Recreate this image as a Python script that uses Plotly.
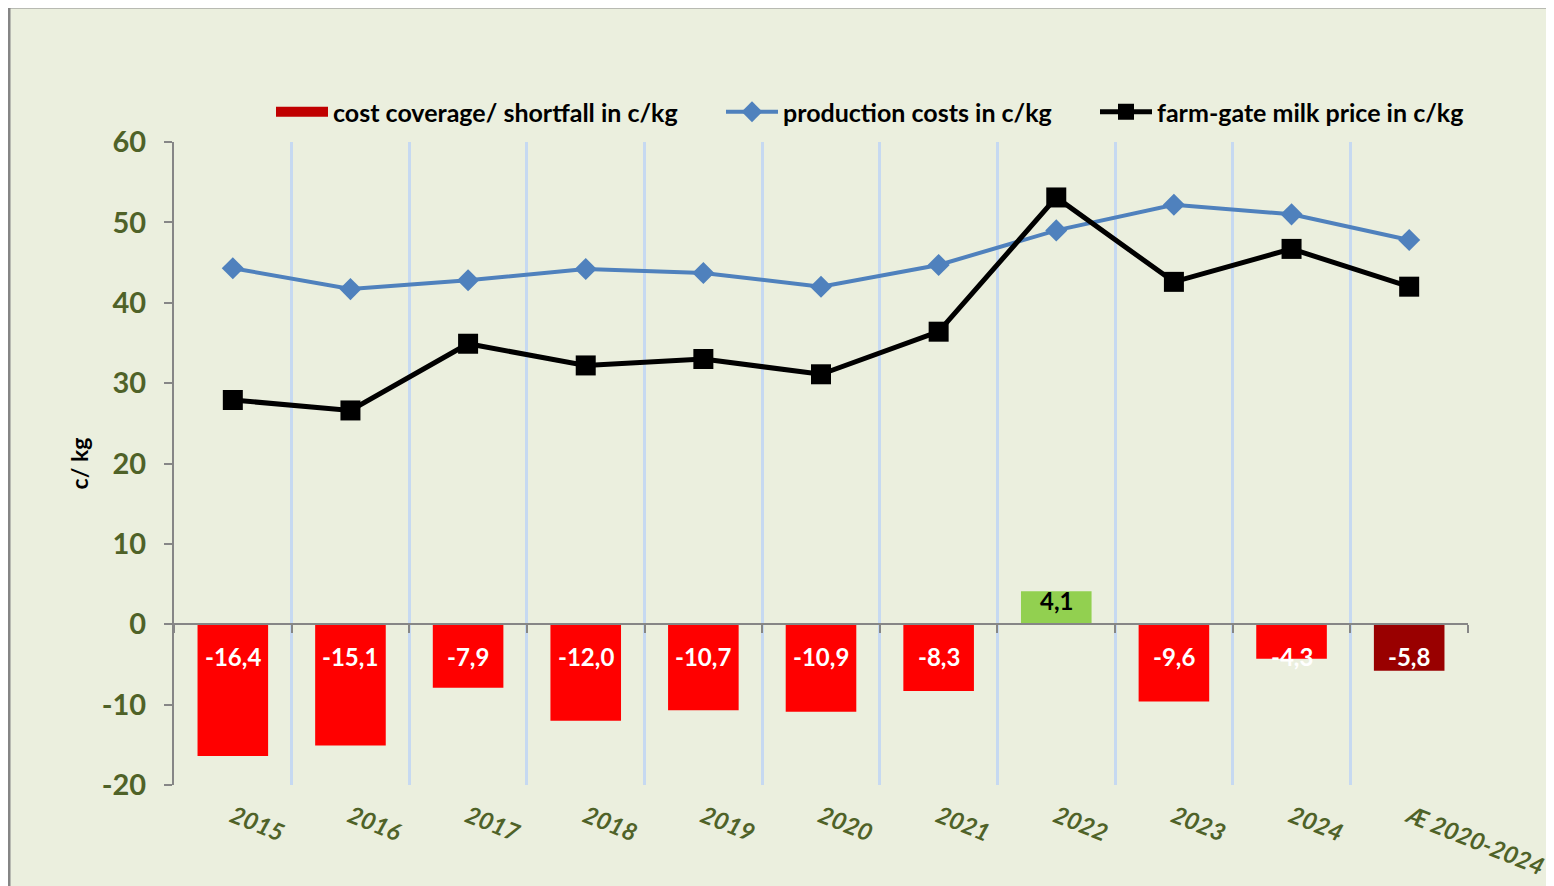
import plotly.graph_objects as go

categories = ["2015", "2016", "2017", "2018", "2019", "2020", "2021", "2022", "2023", "2024", "Æ 2020-2024"]
coverage = [-16.4, -15.1, -7.9, -12.0, -10.7, -10.9, -8.3, 4.1, -9.6, -4.3, -5.8]
production_costs = [44.3, 41.7, 42.8, 44.2, 43.7, 42.0, 44.7, 49.0, 52.2, 51.0, 47.8]
milk_price = [27.9, 26.6, 34.9, 32.2, 33.0, 31.1, 36.4, 53.1, 42.6, 46.7, 42.0]
y_ticks = [-20, -10, 0, 10, 20, 30, 40, 50, 60]

bar_colors = ["#FF0000"] * 7 + ["#92D050"] + ["#FF0000"] * 2 + ["#990000"]
text_colors = ["white"] * 7 + ["black"] + ["white"] * 3
bar_text = [f"{v:.1f}".replace(".", ",") for v in coverage]

OFF = 8  # browser body margin
W, H = 1554, 886
L, R, T, B = 174, 1468, 142, 785   # page pixel coordinates of plot area
pw, ph = R - L, B - T


def px_x(p):
    return (p - L) / pw


def px_y(p):
    return (B - p) / ph


FONT = "Lato"
OLIVE = "#4F6228"

fig = go.Figure()

fig.add_trace(go.Bar(
    x=categories, y=coverage, width=0.6,
    marker=dict(color=bar_colors, line=dict(width=0)),
    textposition="none",
    showlegend=False,
))
# legend entry for bars
fig.add_trace(go.Scatter(
    x=[None], y=[None], mode="lines",
    line=dict(color="#C00000", width=14),
    name="cost coverage/ shortfall in c/kg", legend="legend",
))
fig.add_trace(go.Scatter(
    x=categories, y=production_costs, mode="lines+markers",
    line=dict(color="#4F81BD", width=4),
    marker=dict(symbol="diamond", size=17, color="#4F81BD"),
    name="production costs in c/kg", legend="legend2",
))
fig.add_trace(go.Scatter(
    x=categories, y=milk_price, mode="lines+markers",
    line=dict(color="#000000", width=5),
    marker=dict(symbol="square", size=20, color="#000000"),
    name="farm-gate milk price in c/kg", legend="legend3",
))

# bar value labels (x given as category index)
for i, (v, t, col) in enumerate(zip(coverage, bar_text, text_colors)):
    if v < 0:
        fig.add_annotation(x=i, y=0, text=t, showarrow=False, yanchor="middle", yshift=-32,
                           font=dict(family=FONT, size=24, color=col, weight="bold"))
    else:
        fig.add_annotation(x=i, y=v, text=t, showarrow=False, yanchor="middle", yshift=-9,
                           font=dict(family=FONT, size=24, color=col, weight="bold"))

# frame
fig.add_shape(type="rect", xref="paper", yref="paper",
              x0=px_x(9), x1=px_x(1600), y0=px_y(7), y1=px_y(950),
              fillcolor="#EBEFDE", line=dict(color="#858585", width=3),
              layer="below")

leg_common = dict(
    orientation="h", y=px_y(112), xanchor="left", yanchor="middle",
    font=dict(family=FONT, size=25, color="black", weight="bold"),
    bgcolor="rgba(0,0,0,0)", itemwidth=52,
)

fig.update_layout(
    width=W - OFF, height=H - OFF,
    margin=dict(l=L - OFF, r=W - R, t=T - OFF, b=H - B, autoexpand=False),
    paper_bgcolor="#E7E7E7",
    plot_bgcolor="rgba(0,0,0,0)",
    font=dict(family=FONT),
    legend=dict(x=px_x(271), **leg_common),
    legend2=dict(x=px_x(721), **leg_common),
    legend3=dict(x=px_x(1095), **leg_common),
    xaxis=dict(
        type="category", categoryorder="array", categoryarray=categories,
        range=[-0.5, 10.5], anchor="free", position=20 / 80, automargin=False,
        showline=True, linecolor="#868686", linewidth=2,
        ticks="outside", ticklen=8, tickwidth=2, tickcolor="#868686",
        tickson="boundaries", showticklabels=False,
        showgrid=True, gridcolor="#C6D9F1", gridwidth=3,
        zeroline=False,
    ),
    xaxis2=dict(
        type="category", categoryorder="array", categoryarray=categories,
        range=[-0.5, 10.5], overlaying="x", anchor="y", side="bottom", automargin=False,
        showline=False, showgrid=False, ticks="", zeroline=False,
        tickangle=22, ticklabelstandoff=12,
        tickfont=dict(family=FONT, size=24, color=OLIVE, weight="bold", style="italic"),
    ),
    yaxis=dict(
        range=[-20, 60], tickvals=y_ticks, ticktext=[str(v) for v in y_ticks],
        automargin=False,
        showline=True, linecolor="#868686", linewidth=2,
        ticks="outside", ticklen=8, tickwidth=2, tickcolor="#868686",
        showgrid=False, zeroline=False, ticklabelstandoff=12,
        tickfont=dict(family=FONT, size=29, color=OLIVE, weight="bold"),
        title=dict(text="c/ kg", font=dict(family=FONT, size=23, color="black", weight="bold"),
                   standoff=7),
    ),
)

# dummy trace to activate xaxis2 labels
fig.add_trace(go.Scatter(x=categories, y=[None] * len(categories), xaxis="x2",
                         showlegend=False, hoverinfo="skip"))

fig.write_html("out.html")
